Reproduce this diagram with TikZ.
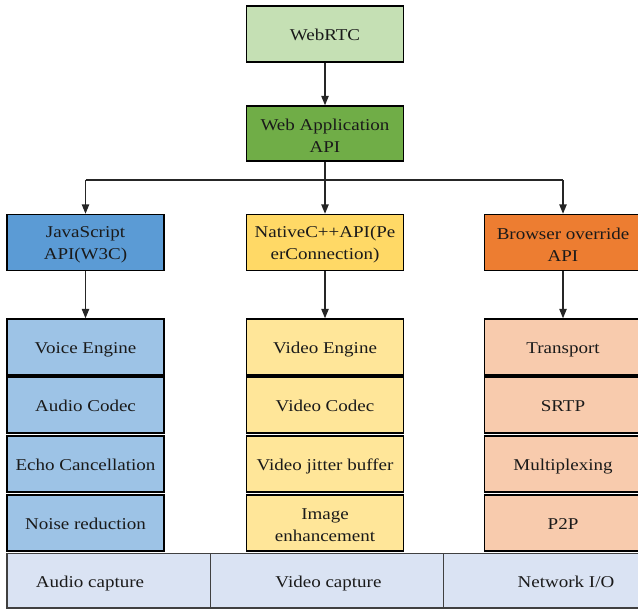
\documentclass[tikz,border=0pt]{standalone}
\usepackage{fontspec}
\setmainfont{Liberation Serif}[FakeStretch=1.15]
\usetikzlibrary{arrows.meta}
\definecolor{topgreen}{HTML}{C5E0B4}
\definecolor{appgreen}{HTML}{70AD47}
\definecolor{jsblue}{HTML}{5B9BD5}
\definecolor{nativeyellow}{HTML}{FFD966}
\definecolor{browserorange}{HTML}{ED7D31}
\definecolor{lightblue}{HTML}{9DC3E6}
\definecolor{lightyellow}{HTML}{FFE699}
\definecolor{lightorange}{HTML}{F8CBAD}
\definecolor{basebar}{HTML}{DAE3F3}
\definecolor{textdark}{HTML}{1A1A1A}
\begin{document}
\begin{tikzpicture}[x=0.75pt, y=-0.75pt,
  boxtext/.style={align=center, inner sep=0pt, yshift=-1.6pt,
    font=\fontsize{12.4}{16}\selectfont, text=textdark},
  oneline/.style={text height=0.9em, text depth=0.24em},
  box/.style={draw=black, line width=1.1pt, rectangle,
    minimum width=117.5pt, minimum height=42pt, inner sep=0pt,
    label={[boxtext, oneline]center:#1}},
  twobox/.style={draw=black, line width=1.1pt, rectangle,
    minimum width=117.5pt, minimum height=42pt, inner sep=0pt,
    label={[boxtext]center:#1}},
  bartext/.style={boxtext, oneline},
  link/.style={draw=black!85, line width=0.9pt},
  arr/.style={link, -{Triangle[length=7pt, width=5.5pt]}}
]
\useasboundingbox (0,0) rectangle (638,610);
\clip (0,0) rectangle (638,610);

% top of the tree
\node[box={WebRTC}, fill=topgreen] (web) at (325,34) {};
\node[twobox={Web Application\\API}, fill=appgreen, minimum height=41.25pt] (app) at (325,133.5) {};

% API layer
\node[twobox={JavaScript\\API(W3C)}, fill=jsblue] (js) at (85.5,242.5) {};
\node[twobox={NativeC++API(Pe\\erConnection)}, fill=nativeyellow] (nat) at (325,242.5) {};
\node[twobox={Browser override\\API}, fill=browserorange] (bro) at (563,242.5) {};

% audio column
\node[box={Voice Engine}, fill=lightblue] (voice) at (85.5,347) {};
\node[box={Audio Codec}, fill=lightblue] (acodec) at (85.5,405) {};
\node[box={Echo Cancellation}, fill=lightblue] (echo) at (85.5,464) {};
\node[box={Noise reduction}, fill=lightblue] (noise) at (85.5,523) {};

% video column
\node[box={Video Engine}, fill=lightyellow] (vengine) at (325,347) {};
\node[box={Video Codec}, fill=lightyellow] (vcodec) at (325,405) {};
\node[box={Video jitter buffer}, fill=lightyellow] (jitter) at (325,464) {};
\node[twobox={Image\\enhancement}, fill=lightyellow] (image) at (325,523) {};

% transport column
\node[box={Transport}, fill=lightorange] (transport) at (563,347) {};
\node[box={SRTP}, fill=lightorange] (srtp) at (563,405) {};
\node[box={Multiplexing}, fill=lightorange] (mux) at (563,464) {};
\node[box={P2P}, fill=lightorange] (ptp) at (563,523) {};

% capture / I/O bar
\draw[fill=basebar, draw=black!75, line width=0.9pt] (7,553.5) rectangle (645,608);
\draw[draw=black!75, line width=0.7pt] (210,553.5) -- (210,608);
\draw[draw=black!75, line width=0.7pt] (443.5,553.5) -- (443.5,608);
\node[bartext] (acap) at (90,581) {Audio capture};
\node[bartext] (vcap) at (328.5,581) {Video capture};
\node[bartext] (nio) at (566,581) {Network I/O};

% connectors
\coordinate (split) at (325,180);
\coordinate (splitL) at (js.north |- split);
\coordinate (splitR) at (bro.north |- split);
\draw[arr] (web) -- (app);
\draw[link] (app) -- (split);
\draw[link] (splitL) -- (splitR);
\draw[arr] (splitL) -- (js);
\draw[arr] (split) -- (nat);
\draw[arr] (splitR) -- (bro);
\draw[arr] (js) -- (voice);
\draw[arr] (nat) -- (vengine);
\draw[arr] (bro) -- (transport);
\end{tikzpicture}
\end{document}
